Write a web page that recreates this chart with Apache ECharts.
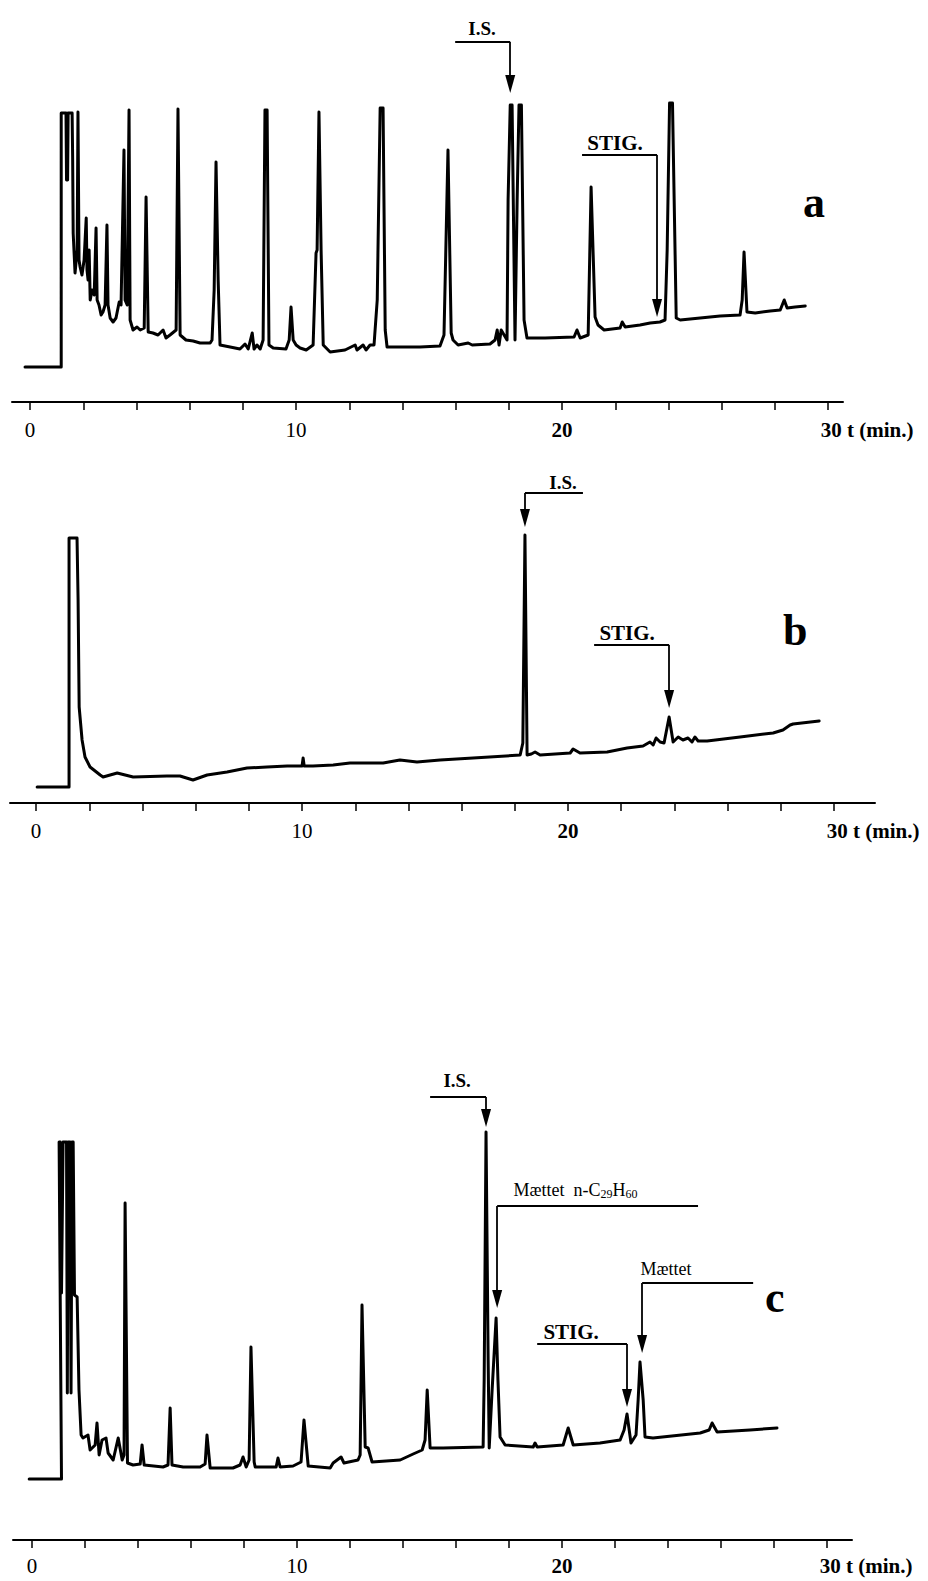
<!DOCTYPE html>
<html><head><meta charset="utf-8">
<script src="https://cdn.jsdelivr.net/npm/echarts@6/dist/echarts.min.js"></script>
<style>html,body{margin:0;padding:0;background:#fff}#chart{width:928px;height:1581px}</style>
</head><body><div id="chart"></div>
<script>
// ---------- data (time in minutes, detector signal in arbitrary units) ----------
const tickMinutes = [0,2,4,6,8,10,12,14,16,18,20,22,24,26,28,30];
const labelMinutes = [0,10,20,30];
const unitLabel = 't (min.)';
const panelLetters = ['a','b','c'];

const traceA = [[-0.19,35],[1.17,35],[1.17,289],[1.35,289],[1.37,222],[1.41,222],[1.43,289],[1.58,289],[1.60,244],[1.62,169],[1.69,129],[1.77,152],[1.80,290],[1.84,142],[1.88,135],[1.95,127],[2.03,142],[2.11,184],[2.14,132],[2.18,122],[2.22,152],[2.26,102],[2.33,112],[2.41,107],[2.48,174],[2.52,102],[2.59,97],[2.67,87],[2.74,90],[2.82,97],[2.89,177],[2.93,97],[3.01,84],[3.12,80],[3.23,84],[3.35,100],[3.42,97],[3.53,252],[3.57,102],[3.65,97],[3.72,292],[3.76,82],[3.87,72],[4.02,75],[4.14,72],[4.29,74],[4.36,205],[4.44,70],[4.62,69],[4.81,67],[5.00,72],[5.11,64],[5.26,67],[5.49,72],[5.56,293],[5.64,67],[5.86,62],[6.13,61],[6.39,59],[6.77,59],[6.84,62],[6.92,112],[6.99,240],[7.07,122],[7.14,57],[7.52,55],[7.89,53],[8.08,58],[8.20,53],[8.35,69],[8.42,53],[8.53,57],[8.65,53],[8.76,62],[8.83,292],[8.91,292],[8.98,57],[9.14,54],[9.62,53],[9.74,62],[9.81,95],[9.89,62],[10.00,57],[10.15,54],[10.38,52],[10.64,57],[10.75,149],[10.79,152],[10.86,290],[10.94,152],[11.02,57],[11.28,50],[11.84,52],[12.22,57],[12.29,52],[12.52,57],[12.63,52],[12.78,57],[12.93,57],[13.05,102],[13.16,294],[13.27,294],[13.35,72],[13.42,55],[13.91,55],[14.66,55],[15.41,56],[15.56,67],[15.71,252],[15.83,69],[15.90,62],[16.09,57],[16.47,59],[16.62,57],[17.29,58],[17.48,62],[17.56,72],[17.63,57],[17.71,72],[17.82,67],[17.93,62],[17.97,202],[18.05,297],[18.12,297],[18.23,62],[18.31,202],[18.38,297],[18.47,297],[18.57,82],[18.68,64],[19.36,64],[20.45,65],[20.56,72],[20.68,64],[20.98,67],[21.09,215],[21.24,85],[21.35,77],[21.58,72],[22.18,74],[22.26,80],[22.37,75],[22.93,77],[23.31,79],[23.68,80],[23.87,82],[23.95,152],[24.04,299],[24.15,299],[24.29,84],[24.44,82],[25.19,84],[25.94,86],[26.69,87],[26.77,102],[26.84,150],[26.95,90],[27.26,89],[27.82,91],[28.20,92],[28.35,102],[28.46,94],[28.76,95],[29.14,96]];

const traceB = [[0.04,16],[1.24,16],[1.24,265],[1.54,265],[1.58,203],[1.62,96],[1.73,63],[1.84,46],[2.03,36],[2.41,28],[2.52,26],[3.05,30],[3.65,26],[4.92,27],[5.41,27],[5.90,23],[6.43,28],[7.18,31],[7.93,35],[8.68,36],[9.44,37],[10.00,37],[10.04,45],[10.08,37],[10.41,37],[11.17,38],[11.80,40],[13.05,40],[13.68,43],[14.32,41],[15.19,43],[16.43,45],[18.20,48],[18.30,60],[18.38,268],[18.46,48],[18.62,49],[18.76,51],[18.95,48],[20.08,50],[20.19,54],[20.45,50],[21.47,51],[22.22,55],[22.82,57],[23.08,61],[23.20,58],[23.31,65],[23.46,61],[23.61,60],[23.80,86],[23.95,61],[24.14,66],[24.32,63],[24.51,65],[24.66,61],[24.77,66],[24.89,62],[25.23,62],[26.47,66],[27.71,70],[28.08,73],[28.35,78],[28.46,79],[29.44,82]];

const traceC = [[-0.11,61],[1.11,61],[1.02,398],[1.06,398],[1.11,247],[1.17,398],[1.30,398],[1.33,147],[1.36,398],[1.43,398],[1.47,147],[1.51,398],[1.55,398],[1.60,245],[1.70,243],[1.77,150],[1.85,105],[1.92,102],[2.11,105],[2.19,90],[2.38,95],[2.45,117],[2.53,85],[2.64,100],[2.79,102],[2.87,87],[3.06,80],[3.25,102],[3.40,80],[3.47,85],[3.51,337],[3.60,77],[3.81,75],[4.08,76],[4.15,95],[4.23,75],[4.94,73],[5.13,75],[5.21,132],[5.28,75],[5.70,73],[6.34,73],[6.53,76],[6.60,105],[6.72,72],[7.58,72],[7.85,75],[7.96,83],[8.08,73],[8.19,80],[8.26,193],[8.38,78],[8.42,73],[8.87,73],[9.21,73],[9.28,82],[9.36,73],[9.85,74],[10.15,78],[10.26,120],[10.42,74],[11.25,72],[11.36,77],[11.66,83],[11.77,77],[12.30,80],[12.38,85],[12.45,235],[12.57,93],[12.68,92],[12.83,78],[13.89,80],[14.38,86],[14.72,90],[14.83,100],[14.91,150],[15.02,92],[15.51,92],[17.02,93],[17.06,160],[17.13,408],[17.21,180],[17.25,92],[17.36,150],[17.51,222],[17.58,160],[17.66,103],[17.85,95],[18.91,93],[18.98,97],[19.06,93],[20.04,95],[20.23,112],[20.42,95],[21.43,97],[22.19,100],[22.34,110],[22.45,126],[22.60,97],[22.79,105],[22.87,140],[22.94,178],[23.06,140],[23.13,103],[23.43,102],[25.21,107],[25.55,110],[25.66,117],[25.85,108],[27.09,110],[28.11,112]];

// ---------- annotation placement (in the chart's own units) ----------
const notesA = [
  {text:'I.S.', kind:'is', tx:16.99, tv:374, from:15.98, to:18.05, lv:360, arrowT:18.05, tipV:309},
  {text:'STIG.', kind:'stig', tx:21.99, tv:259, from:20.75, to:23.57, lv:247, arrowT:23.57, tipV:85}
];
const notesB = [
  {text:'I.S.', kind:'is', tx:19.81, tv:321, from:18.38, to:20.56, lv:310, arrowT:18.38, tipV:276},
  {text:'STIG.', kind:'stig', tx:22.22, tv:170, from:20.98, to:23.80, lv:158, arrowT:23.80, tipV:95}
];
const notesC = [
  {text:'I.S.', kind:'is', tx:16.04, tv:460, from:15.02, to:17.13, lv:443, arrowT:17.13, tipV:413},
  {text:'{m|Mættet  n-C}{s|29}{m|H}{s|60}', kind:'small', left:true, tx:18.15, tv:350, from:17.55, to:25.13, lv:334, arrowT:17.55, tipV:232},
  {text:'{m|Mættet}', kind:'small', left:true, tx:22.94, tv:271, from:23.02, to:27.21, lv:257, arrowT:23.02, tipV:187},
  {text:'STIG.', kind:'stig', tx:20.34, tv:208, from:19.06, to:22.45, lv:196, arrowT:22.45, tipV:133}
];

// ---------- layout ----------
const SERIF = '"Liberation Serif","DejaVu Serif",serif';
const grids = [
  {left:12, width:831, top:2, height:400},
  {left:10, width:865, top:423, height:380},
  {left:13, width:839, top:1040, height:500}
];
const xRanges = [[-0.68,30.56],[-0.98,31.54],[-0.72,30.94]];
const labelMargins = [17,17,15];
const letterPos = [{left:803,top:180},{left:783,top:608},{left:765,top:1275}];

const textStyles = {
  is:{fontSize:19, fontWeight:'bold'},
  stig:{fontSize:21, fontWeight:'bold'},
  small:{fontSize:18, fontWeight:'normal'}
};

function makeX(i){
  return {
    gridIndex:i, type:'value', min:xRanges[i][0], max:xRanges[i][1],
    splitLine:{show:false},
    axisLine:{show:true, onZero:false, lineStyle:{color:'#000', width:2}},
    axisTick:{show:true, customValues:tickMinutes, length:8, inside:false, lineStyle:{color:'#000', width:1.5}},
    axisLabel:{
      customValues:labelMinutes, margin:labelMargins[i], color:'#000',
      fontFamily:SERIF, fontSize:21,
      formatter:function(v){
        if (v === 30) return '{p| }{b|30}{b| ' + unitLabel + '}';
        if (v === 20) return '{b|20}';
        return '{n|' + v + '}';
      },
      rich:{
        n:{fontFamily:SERIF, fontSize:21, color:'#000', fontWeight:'normal'},
        b:{fontFamily:SERIF, fontSize:21, color:'#000', fontWeight:'bold'},
        p:{width:78}
      }
    }
  };
}
function makeY(i){
  return {gridIndex:i, type:'value', min:0, max:grids[i].height, show:false};
}
function makeSeries(i, data, notes){
  return {
    type:'line', xAxisIndex:i, yAxisIndex:i, data:data, symbol:'none', showSymbol:false,
    clip:false, silent:true, animation:false,
    lineStyle:{color:'#000', width:3, join:'round', cap:'round'},
    markLine:{
      silent:true, animation:false, symbol:['none','none'],
      lineStyle:{color:'#000', width:1.8, type:'solid'},
      label:{show:false}, emphasis:{disabled:true},
      data: notes.flatMap(function(n){ return [
        [{coord:[n.from, n.lv]}, {coord:[n.to, n.lv]}],
        [{coord:[n.arrowT, n.lv]}, {coord:[n.arrowT, n.tipV + 9], symbol:'triangle', symbolSize:[10,18]}]
      ];})
    },
    markPoint:{
      silent:true, animation:false,
      data: notes.map(function(n){
        const st = textStyles[n.kind];
        return {
          coord:[n.tx, n.tv], symbol:'circle', symbolSize:1,
          itemStyle:{color:'rgba(0,0,0,0)'},
          label:{
            show:true, position: n.left ? 'right' : 'inside', distance:0,
            formatter:n.text, color:'#000', fontFamily:SERIF,
            fontSize:st.fontSize, fontWeight:st.fontWeight,
            rich:{
              m:{fontFamily:SERIF, fontSize:18, color:'#000', lineHeight:19},
              s:{fontFamily:SERIF, fontSize:12, color:'#000', lineHeight:12, verticalAlign:'bottom'}
            }
          }
        };
      })
    }
  };
}

const chart = echarts.init(document.getElementById('chart'), null, {renderer:'svg'});
chart.setOption({
  backgroundColor:'#fff',
  animation:false,
  title: panelLetters.map(function(L, i){
    return {text:L, left:letterPos[i].left, top:letterPos[i].top, padding:0,
      textStyle:{fontFamily:SERIF, fontSize:44, fontWeight:'bold', color:'#000'}};
  }),
  grid: grids,
  xAxis: [0,1,2].map(makeX),
  yAxis: [0,1,2].map(makeY),
  series: [makeSeries(0, traceA, notesA), makeSeries(1, traceB, notesB), makeSeries(2, traceC, notesC)]
});
</script>
</body></html>
